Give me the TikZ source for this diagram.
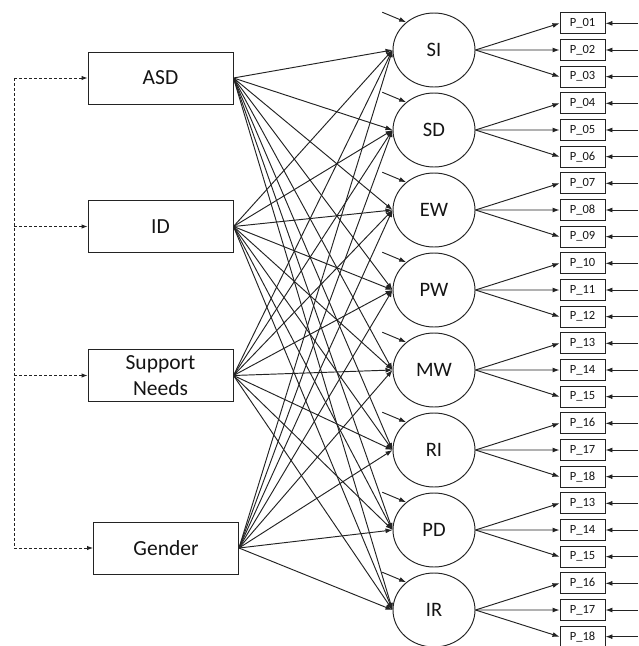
\documentclass[tikz,border=0pt]{standalone}
\usepackage{fontspec}
\setmainfont{Carlito}
\usetikzlibrary{arrows.meta,calc,shapes.geometric}
\definecolor{lc}{RGB}{35,35,35}
\definecolor{tc}{RGB}{20,20,20}
\begin{document}
\begin{tikzpicture}[x=1pt,y=-1pt,
  line/.style={draw=lc, line width=0.95pt},
  arr/.style={line, -{Latex[length=7pt,width=5pt]}},
  dasharr/.style={draw=lc, line width=0.95pt, dash pattern=on 3pt off 2pt, -{Latex[length=6pt,width=4.5pt]}},
  dashline/.style={draw=lc, line width=0.95pt, dash pattern=on 3pt off 2pt},
  predbox/.style={draw=lc, line width=0.95pt, minimum width=145pt, minimum height=52pt, inner sep=0pt, align=center, text=tc, font=\fontsize{21.5}{26}\selectfont},
  latent/.style={draw=lc, line width=0.95pt, ellipse, minimum width=82pt, minimum height=74pt, inner sep=0pt, text=tc, font=\fontsize{20.5}{24}\selectfont},
  itembox/.style={draw=lc, line width=0.95pt, minimum width=45pt, minimum height=21pt, inner sep=0pt, text=tc, font=\fontsize{12.5}{14}\selectfont}
]
\useasboundingbox (0,0) rectangle (638,646);

% predictors
\node[predbox] (asd) at (160.5,78) {ASD};
\node[predbox] (id) at (160.5,226.5) {ID};
\node[predbox] (sn) at (160.5,375.5) {Support\\Needs};
\node[predbox] (gen) at (166,548) {Gender};

% dashed connectors
\coordinate (dx) at (14,0);
\draw[dashline] (dx |- asd.west) -- (dx |- gen.west);
\foreach \p in {asd,id,sn,gen} {
  \draw[dasharr] (dx |- \p.west) -- (\p.west);
}

% latent factors
\foreach \n [count=\i from 0] in {SI,SD,EW,PW,MW,RI,PD,IR} {
  \node[latent] (\n) at (434,50+80*\i) {\n};
}

% items
\foreach \lab [count=\k from 0] in {01,02,03,04,05,06,07,08,09,10,11,12,13,14,15,16,17,18,13,14,15,16,17,18} {
  \node[itembox] (p\k) at (582.5,23.33+26.667*\k) {P\_\lab};
  \coordinate (r\k) at (638,23.33+26.667*\k);
  \draw[arr] (r\k) -- (p\k.east);
}

% structural paths
\foreach \p in {asd,id,sn,gen} {
  \foreach \n in {SI,SD,EW,PW,MW,RI,PD,IR} {
    \draw[arr] (\p.east) -- (\n.west);
  }
}

% loadings and disturbances
\foreach \n [count=\i from 0] in {SI,SD,EW,PW,MW,RI,PD,IR} {
  \pgfmathtruncatemacro\a{3*\i}
  \pgfmathtruncatemacro\b{3*\i+1}
  \pgfmathtruncatemacro\c{3*\i+2}
  \draw[arr] (\n.east) -- (p\a.west);
  \draw[arr] (\n.east) -- (p\b.west);
  \draw[arr] (\n.east) -- (p\c.west);
  \coordinate (e\n) at ($(\n.135)+(-24,-10)$);
  \draw[arr] (e\n) -- (\n.135);
}
\end{tikzpicture}
\end{document}
